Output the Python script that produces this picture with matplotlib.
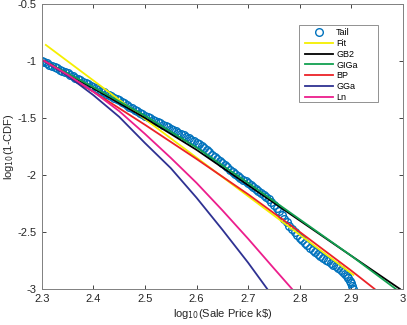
import numpy as np
import matplotlib.pyplot as plt
from matplotlib.patches import Rectangle

tail_x = [2.300, 2.305, 2.310, 2.315, 2.320, 2.325, 2.330, 2.335, 2.340, 2.345,
          2.350, 2.355, 2.360, 2.365, 2.370, 2.375, 2.380, 2.385, 2.390, 2.395,
          2.400, 2.405, 2.410, 2.415, 2.420, 2.425, 2.430, 2.435, 2.440, 2.445,
          2.450, 2.455, 2.460, 2.465, 2.470, 2.475, 2.480, 2.485, 2.490, 2.495,
          2.500, 2.505, 2.510, 2.515, 2.520, 2.525, 2.530, 2.535, 2.540, 2.545,
          2.550, 2.555, 2.560, 2.565, 2.570, 2.575, 2.580, 2.585, 2.590, 2.595,
          2.600, 2.605, 2.610, 2.615, 2.620, 2.625, 2.630, 2.635, 2.640, 2.645,
          2.650, 2.655, 2.660, 2.665, 2.670, 2.675, 2.680, 2.685, 2.690, 2.695,
          2.700, 2.705, 2.710, 2.715, 2.720, 2.725, 2.730, 2.735, 2.740, 2.745,
          2.750, 2.755, 2.760, 2.765, 2.770, 2.775, 2.780, 2.785, 2.790, 2.795,
          2.800, 2.805, 2.810, 2.815, 2.820, 2.825, 2.830, 2.835, 2.840, 2.845,
          2.850, 2.855, 2.860, 2.865, 2.870, 2.875, 2.880, 2.884, 2.888, 2.891,
          2.894, 2.897, 2.899, 2.901, 2.903]
tail_y = [-1.000, -1.011, -1.022, -1.033, -1.044, -1.055, -1.066, -1.077, -1.088, -1.099,
          -1.110, -1.122, -1.134, -1.146, -1.158, -1.170, -1.181, -1.193, -1.205, -1.216,
          -1.228, -1.240, -1.251, -1.263, -1.275, -1.286, -1.298, -1.310, -1.322, -1.333,
          -1.345, -1.359, -1.373, -1.387, -1.401, -1.415, -1.428, -1.442, -1.456, -1.468,
          -1.480, -1.491, -1.503, -1.514, -1.525, -1.537, -1.548, -1.559, -1.571, -1.582,
          -1.594, -1.606, -1.618, -1.630, -1.642, -1.654, -1.666, -1.678, -1.690, -1.703,
          -1.718, -1.733, -1.750, -1.767, -1.785, -1.803, -1.821, -1.839, -1.857, -1.874,
          -1.892, -1.911, -1.933, -1.956, -1.975, -1.993, -2.011, -2.028, -2.043, -2.057,
          -2.070, -2.087, -2.104, -2.121, -2.138, -2.156, -2.175, -2.195, -2.213, -2.235,
          -2.260, -2.288, -2.318, -2.350, -2.383, -2.415, -2.445, -2.472, -2.498, -2.524,
          -2.550, -2.573, -2.596, -2.618, -2.640, -2.658, -2.676, -2.694, -2.710, -2.726,
          -2.742, -2.758, -2.773, -2.787, -2.801, -2.817, -2.834, -2.850, -2.868, -2.885,
          -2.905, -2.928, -2.950, -2.972, -3.000]

# fitted straight line
fit_x = [2.308, 2.904]
fit_y = [-0.86, -2.877]

# model curves
gb2_x = [2.305, 2.4, 2.5, 2.6, 2.7, 2.8, 2.9, 2.994]
gb2_y = [-1.0, -1.24, -1.50, -1.78, -2.09, -2.40, -2.71, -3.0]

giga_x = [2.305, 2.4, 2.5, 2.6, 2.7, 2.8, 2.9, 2.986]
giga_y = [-1.0, -1.23, -1.48, -1.76, -2.07, -2.39, -2.71, -3.0]

bp_x = [2.305, 2.4, 2.5, 2.6, 2.7, 2.8, 2.9, 2.945]
bp_y = [-1.0, -1.27, -1.56, -1.86, -2.17, -2.50, -2.84, -3.0]

gga_x = [2.305, 2.35, 2.4, 2.45, 2.5, 2.55, 2.6, 2.65, 2.7, 2.737]
gga_y = [-1.0, -1.13, -1.30, -1.49, -1.72, -1.94, -2.20, -2.48, -2.77, -3.0]

ln_x = [2.305, 2.35, 2.4, 2.45, 2.5, 2.55, 2.6, 2.65, 2.7, 2.75, 2.785]
ln_y = [-1.0, -1.12, -1.27, -1.44, -1.64, -1.85, -2.07, -2.31, -2.56, -2.82, -3.0]

plt.rcParams['font.family'] = ['Liberation Sans', 'DejaVu Sans']

fig = plt.figure(figsize=(4.07, 3.25), dpi=100)
ax = fig.add_axes([0.1025, 0.111, 0.8875, 0.877])

ax.plot(tail_x, tail_y, 'o', ms=5.5, mfc='none', mec='#0072BD', mew=1.0, label='Tail')
ax.plot(fit_x, fit_y, color='#f5ef00', lw=1.3, label='Fit')
ax.plot(gb2_x, gb2_y, color='black', lw=1.3, label='GB2')
ax.plot(giga_x, giga_y, color='#12a050', lw=1.3, label='GIGa')
ax.plot(bp_x, bp_y, color='#ec2227', lw=1.3, label='BP')
ax.plot(gga_x, gga_y, color='#2e3192', lw=1.3, label='GGa')
ax.plot(ln_x, ln_y, color='#ec1e8c', lw=1.3, label='Ln')

ax.set_xlim(2.3, 3.0)
ax.set_ylim(-3, -0.5)
ax.set_xticks(np.arange(2.3, 3.01, 0.1))
ax.set_xticklabels(['2.3', '2.4', '2.5', '2.6', '2.7', '2.8', '2.9', '3'])
ax.set_yticks([-3, -2.5, -2, -1.5, -1, -0.5])
ax.set_yticklabels(['-3', '-2.5', '-2', '-1.5', '-1', '-0.5'])
ax.tick_params(direction='in', length=3, width=0.6, top=True, right=True,
               labelsize=8, colors='#262626')
for s in ax.spines.values():
    s.set_color('#808080')
    s.set_linewidth(0.7)

ax.set_xlabel(r'log$_{10}$(Sale Price k\$)', fontsize=8, color='#262626', labelpad=2)
ax.set_ylabel(r'log$_{10}$(1-CDF)', fontsize=8, color='#262626')
ax.yaxis.set_label_coords(-0.072, 0.5)

# legend box drawn separately so it can be wider than the entries
ax.add_patch(Rectangle((0.712, 0.656), 0.219, 0.270, transform=ax.transAxes,
                       facecolor='white', edgecolor='#808080', lw=0.6, zorder=4))
leg = ax.legend(loc='upper left', bbox_to_anchor=(0.721, 0.926), fontsize=6.5,
                frameon=False, handlelength=3.1, labelspacing=0.2, borderpad=0.35,
                handletextpad=0.3, borderaxespad=0)
leg.set_zorder(5)

plt.savefig('out.png', dpi=100)
